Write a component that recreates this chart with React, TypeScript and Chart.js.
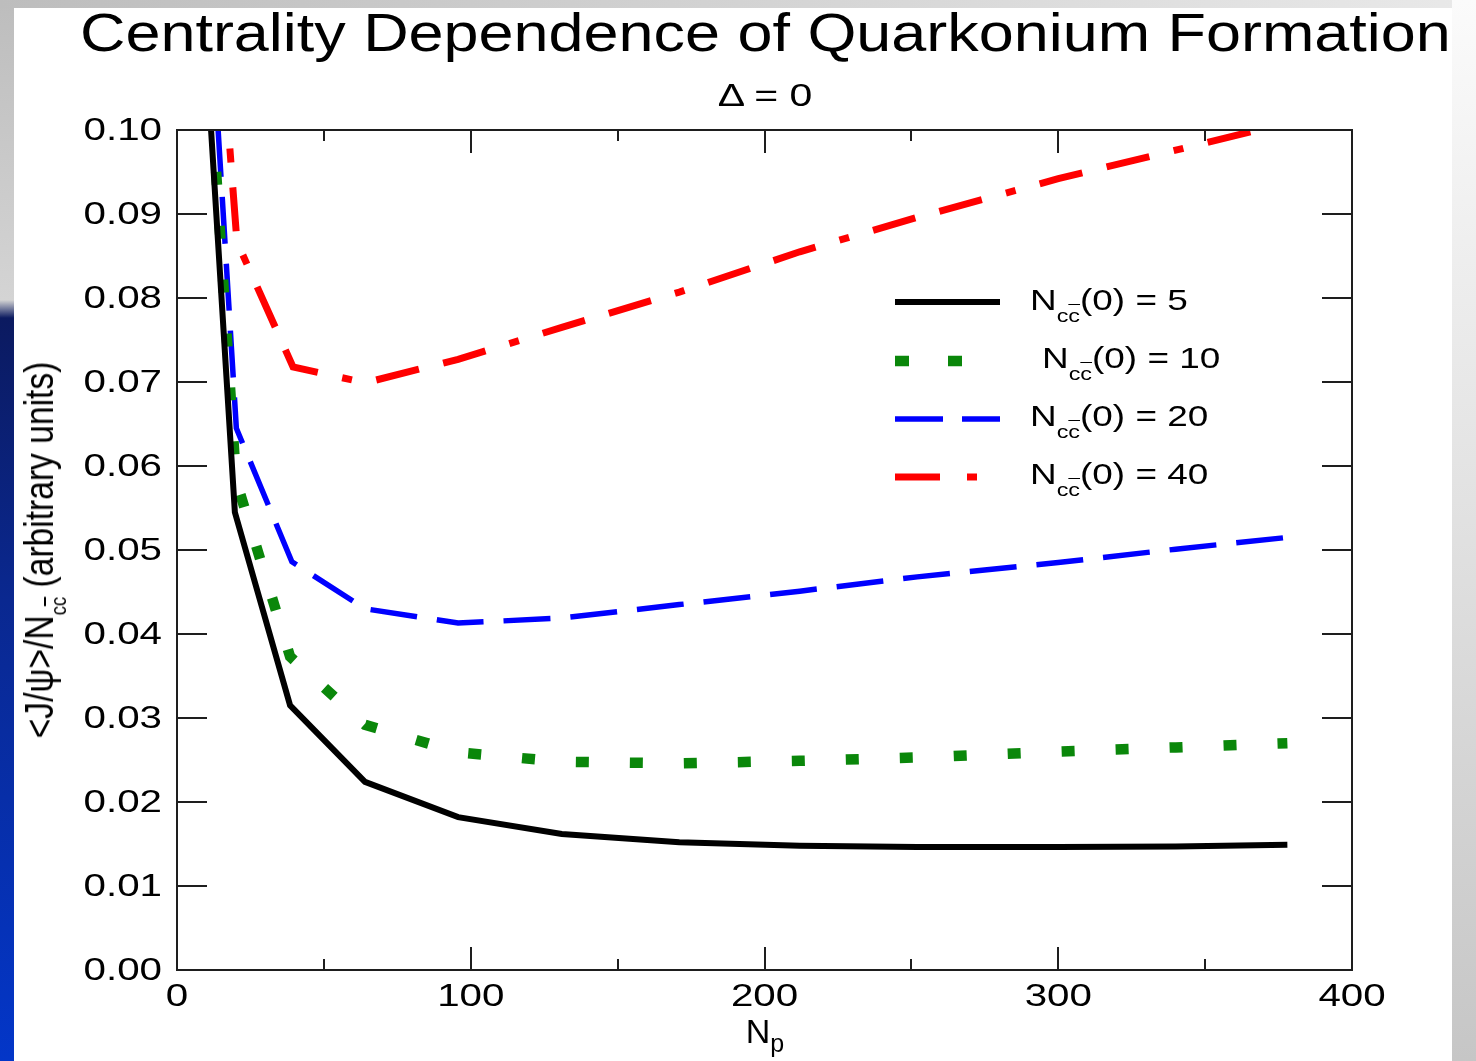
import React, { useEffect, useRef } from "react";
import { Chart, registerables } from "chart.js";

Chart.register(...registerables);

const W = 1476;
const H = 1061;

// ---- data (Np, <J/psi>/N_ccbar) ----
const NP_5 = [11.6, 19.7, 38.5, 64, 95.7, 131, 171, 212, 252, 300, 340, 378];
const VAL_5 = [0.1, 0.0545, 0.0315, 0.0224, 0.0182, 0.0162, 0.0152, 0.0148, 0.01465, 0.01463, 0.0147, 0.0149];

const NP_10 = [12.4, 20.1, 38.5, 64, 95.7, 131, 171, 212, 252, 300, 340, 378];
const VAL_10 = [0.1, 0.0583, 0.0373, 0.0292, 0.0259, 0.0248, 0.0246, 0.0249, 0.0253, 0.026, 0.0265, 0.027];

const NP_20 = [14.0, 20.2, 39.1, 64, 95.7, 131, 171, 212, 252, 300, 340, 378];
const VAL_20 = [0.1, 0.0645, 0.0486, 0.043, 0.0413, 0.0419, 0.0435, 0.0451, 0.0468, 0.0485, 0.0501, 0.0515];

const NP_40 = [18.0, 20.4, 39.5, 64, 95.7, 131, 171, 212, 252, 300, 340, 368];
const VAL_40 = [0.0978, 0.0867, 0.0718, 0.0699, 0.0727, 0.0765, 0.0807, 0.0855, 0.0896, 0.0942, 0.0976, 0.1];

const SERIES_N0 = ["5", "10", "20", "40"];

const Y_TICKS = [0, 0.01, 0.02, 0.03, 0.04, 0.05, 0.06, 0.07, 0.08, 0.09, 0.1];
const Y_TICK_LABELS = ["0.00", "0.01", "0.02", "0.03", "0.04", "0.05", "0.06", "0.07", "0.08", "0.09", "0.10"];
const X_MAJOR = [0, 100, 200, 300, 400];
const X_TICK_LABELS = ["0", "100", "200", "300", "400"];
const X_MINOR = [50, 150, 250, 350];

const TITLE = "Centrality Dependence of Quarkonium Formation";
const SUBTITLE = "\u0394 = 0";

const FONT = '"Liberation Sans", Arial, Helvetica, sans-serif';

const COLORS = ["#000000", "#0a870a", "#0000ff", "#ff0000"];
const WIDTHS = [6, 10.5, 5.5, 7];
const DASHES: number[][] = [[], [13, 41], [47, 20], [44, 25, 44, 25, 10, 25]];
const DASH_OFFSETS = [0, 12, 0, 30];

const toPts = (xs: number[], ys: number[]) => xs.map((x, i) => ({ x, y: ys[i] }));

const framePlugin = {
  id: "frameAxes",
  afterDatasetsDraw(chart: any) {
    const { ctx, chartArea: a } = chart;
    const xs = chart.scales.x;
    const ys = chart.scales.y;
    ctx.save();
    // frame + inward ticks
    ctx.strokeStyle = "#1e1e1e";
    ctx.lineWidth = 2;
    ctx.setLineDash([]);
    ctx.lineCap = "butt";
    ctx.beginPath();
    ctx.rect(a.left, a.top, a.right - a.left, a.bottom - a.top);
    Y_TICKS.forEach((v) => {
      const p = Math.round(ys.getPixelForValue(v));
      ctx.moveTo(a.left, p);
      ctx.lineTo(a.left + 30, p);
      ctx.moveTo(a.right, p);
      ctx.lineTo(a.right - 30, p);
    });
    X_MAJOR.forEach((v) => {
      const p = Math.round(xs.getPixelForValue(v));
      ctx.moveTo(p, a.bottom);
      ctx.lineTo(p, a.bottom - 23);
      ctx.moveTo(p, a.top);
      ctx.lineTo(p, a.top + 23);
    });
    X_MINOR.forEach((v) => {
      const p = Math.round(xs.getPixelForValue(v));
      ctx.moveTo(p, a.bottom);
      ctx.lineTo(p, a.bottom - 11);
      ctx.moveTo(p, a.top);
      ctx.lineTo(p, a.top + 11);
    });
    ctx.stroke();

    // tick labels
    ctx.fillStyle = "#000";
    ctx.font = `31px ${FONT}`;
    ctx.textBaseline = "middle";
    Y_TICKS.forEach((v, i) => {
      const p = ys.getPixelForValue(v);
      ctx.save();
      ctx.translate(a.left - 15, p + 1);
      ctx.scale(1.3, 1);
      ctx.textAlign = "right";
      ctx.fillText(Y_TICK_LABELS[i], 0, 0);
      ctx.restore();
    });
    X_MAJOR.forEach((v, i) => {
      const p = xs.getPixelForValue(v);
      ctx.save();
      ctx.translate(p, a.bottom + 27);
      ctx.scale(1.3, 1);
      ctx.textAlign = "center";
      ctx.fillText(X_TICK_LABELS[i], 0, 0);
      ctx.restore();
    });

    // legend line samples
    const legendY = [302, 361, 419, 477];
    const legendDash: number[][] = [[], [14, 39], [48, 19], [45, 27, 10, 27]];
    legendY.forEach((y, i) => {
      ctx.beginPath();
      ctx.strokeStyle = COLORS[i];
      ctx.lineWidth = WIDTHS[i];
      ctx.setLineDash(legendDash[i]);
      ctx.moveTo(895, y);
      ctx.lineTo(1000, y);
      ctx.stroke();
    });
    ctx.restore();
  },
};

function Txt(props: {
  left: number;
  baseline: number;
  size: number;
  sx?: number;
  align?: "left" | "center";
  children: any;
}) {
  const { left, baseline, size, sx = 1, align = "left", children } = props;
  const top = baseline - 0.8465 * size;
  const transform = align === "center" ? `translateX(-50%) scaleX(${sx})` : `scaleX(${sx})`;
  return (
    <div
      style={{
        position: "absolute",
        left,
        top,
        fontSize: size,
        lineHeight: 1,
        height: size,
        whiteSpace: "nowrap",
        transform,
        transformOrigin: align === "center" ? "center top" : "left top",
        color: "#000",
      }}
    >
      {children}
    </div>
  );
}

function CCbar(props: { size: number; drop: number }) {
  return (
    <span style={{ fontSize: props.size, verticalAlign: `-${props.drop}px` }}>
      c<span style={{ textDecoration: "overline" }}>c</span>
    </span>
  );
}

export default function App() {
  const canvasRef = useRef<HTMLCanvasElement | null>(null);

  useEffect(() => {
    const canvas = canvasRef.current;
    if (!canvas) return;
    const series = [
      toPts(NP_5, VAL_5),
      toPts(NP_10, VAL_10),
      toPts(NP_20, VAL_20),
      toPts(NP_40, VAL_40),
    ];
    const chart = new Chart(canvas, {
      type: "line",
      data: {
        datasets: series.map((d, i) => ({
          label: `N(0) = ${SERIES_N0[i]}`,
          data: d,
          borderColor: COLORS[i],
          backgroundColor: COLORS[i],
          borderWidth: WIDTHS[i],
          borderDash: DASHES[i],
          borderDashOffset: DASH_OFFSETS[i],
          borderCapStyle: "butt",
          borderJoinStyle: "miter",
          pointRadius: 0,
          tension: 0,
          fill: false,
        })),
      },
      options: {
        responsive: false,
        animation: false,
        devicePixelRatio: 1,
        events: [],
        layout: { padding: { left: 177, right: W - 1352, top: 130, bottom: H - 970 } },
        plugins: {
          legend: { display: false },
          tooltip: { enabled: false },
          title: { display: false },
        },
        scales: {
          x: { type: "linear", min: 0, max: 400, display: false },
          y: { type: "linear", min: 0, max: 0.1, display: false },
        },
      } as any,
      plugins: [framePlugin],
    });
    return () => chart.destroy();
  }, []);

  const legendBase = [310, 368, 426, 484];
  const legendLeft = [1030, 1042, 1030, 1030];

  return (
    <div
      style={{
        position: "absolute",
        left: 0,
        top: 0,
        width: W,
        height: H,
        background: "#ffffff",
        overflow: "hidden",
        fontFamily: FONT,
      }}
    >
      <div
        style={{
          position: "absolute",
          left: 0,
          top: 0,
          width: 14,
          height: H,
          background:
            "linear-gradient(to bottom, #bdbdbd 0px, #d4d4d4 300px, #0b1a60 318px, #0a2890 600px, #0336c8 1061px)",
        }}
      />
      <div
        style={{
          position: "absolute",
          left: 0,
          top: 0,
          width: W,
          height: 8,
          background: "linear-gradient(to right, #bdbdbd, #e9e9e9)",
        }}
      />
      <div
        style={{
          position: "absolute",
          left: 1452,
          top: 0,
          width: W - 1452,
          height: H,
          background: "linear-gradient(to bottom, #fbfbfb, #c6c6c6)",
        }}
      />
      <canvas
        ref={canvasRef}
        width={W}
        height={H}
        style={{ position: "absolute", left: 0, top: 0, width: W, height: H }}
      />
      <Txt left={80} baseline={51} size={54} sx={1.165}>
        {TITLE}
      </Txt>
      <Txt left={765} baseline={106} size={32} sx={1.28} align="center">
        {SUBTITLE}
      </Txt>
      {SERIES_N0.map((n, i) => (
        <Txt key={n} left={legendLeft[i]} baseline={legendBase[i]} size={30} sx={1.23}>
          N<CCbar size={19} drop={12} />(0) = {n}
        </Txt>
      ))}
      <Txt left={765} baseline={1043} size={34} align="center">
        N<span style={{ fontSize: 25, verticalAlign: "-9px" }}>p</span>
      </Txt>
      <div
        style={{
          position: "absolute",
          left: 39,
          top: 550,
          fontSize: 40,
          lineHeight: 1,
          height: 40,
          whiteSpace: "nowrap",
          transform: "translate(-50%, -50%) rotate(-90deg) scaleX(0.84)",
          color: "#000",
        }}
      >
        {"<J/\u03C8>/N"}
        <CCbar size={22} drop={13} />
        {" (arbitrary units)"}
      </div>
    </div>
  );
}
